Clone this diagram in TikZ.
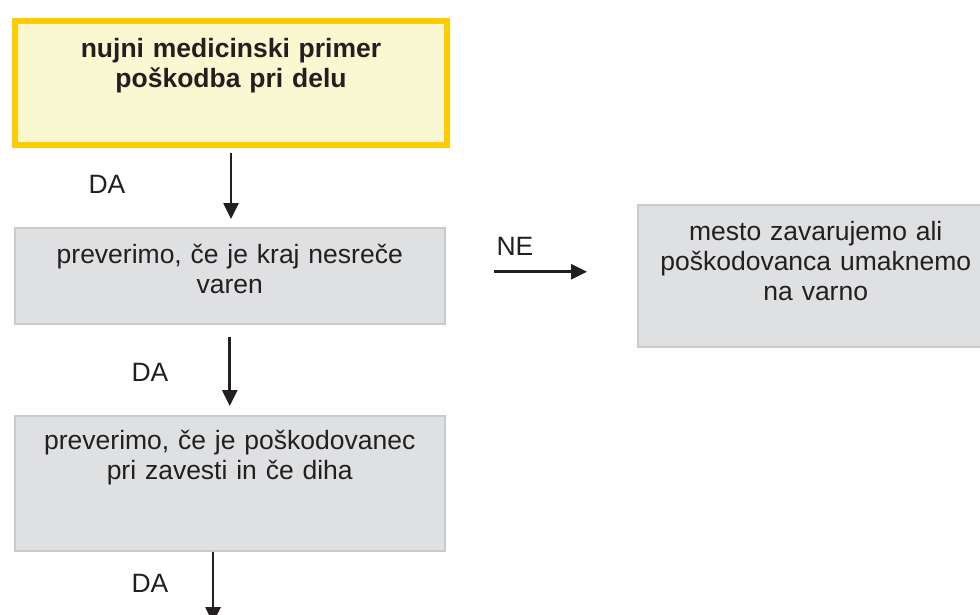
\documentclass[tikz,border=0pt]{standalone}
\usepackage{fontspec}
\setmainfont{Liberation Sans}
\usetikzlibrary{arrows.meta}
\definecolor{boxgray}{HTML}{DFE0E2}
\definecolor{edgegray}{HTML}{C9CACC}
\definecolor{goldline}{HTML}{FFCC00}
\definecolor{paleyellow}{HTML}{FAF8D0}
\definecolor{ink}{HTML}{231F20}
\tikzset{
  greybox/.style={draw=edgegray, line width=1.5pt, fill=boxgray, anchor=north west,
    inner sep=0pt, text width=#1, minimum width=#1, align=center, text=ink,
    font=\fontsize{26.5}{30}\selectfont},
  flow/.style={draw=ink, line width=2.6pt, -{Triangle[width=15pt,length=16pt]}},
  answer/.style={text=ink, inner sep=0pt, font=\fontsize{26.5}{30}\selectfont}
}
\begin{document}
\begin{tikzpicture}[x=1pt,y=-1pt]
\useasboundingbox (0,0) rectangle (980,615);

\node[anchor=north west, draw=goldline, line width=6pt, fill=paleyellow, inner sep=0pt,
  text width=432pt, minimum width=432pt, text height=37pt, text depth=87pt, align=center,
  text=ink, font=\bfseries\fontsize{26.5}{30}\selectfont] (case) at (12,18)
  {nujni medicinski primer\\poškodba pri delu};

\node[greybox=430pt, text height=36pt, text depth=60pt] (check) at (14,227)
  {preverimo, če je kraj nesreče\\varen};
\node[greybox=356pt, text height=36pt, text depth=106pt] (secure) at (637,204)
  {mesto zavarujemo ali\\poškodovanca umaknemo\\na varno};
\node[greybox=430pt, text height=34pt, text depth=101pt] (state) at (14,415)
  {preverimo, če je poškodovanec\\pri zavesti in če diha};

\draw[flow, shorten <=5pt, shorten >=8pt] (case.south) -- (case.south |- check.north);
\draw[flow, shorten <=12pt, shorten >=9pt] (check.south) -- (check.south |- state.north);
\draw[flow, shorten <=48pt, shorten >=50pt] ([yshift=4pt]check.east) -- ([yshift=4pt]check.east -| secure.west);
\coordinate (next) at (213,623);
\draw[flow] (state.south -| next) -- (next);

\node[answer] (yes1) at (107,184) {DA};
\node[answer] (no1) at (515,246) {NE};
\node[answer] (yes2) at (150,372) {DA};
\node[answer] (yes3) at (150,583) {DA};
\end{tikzpicture}
\end{document}
